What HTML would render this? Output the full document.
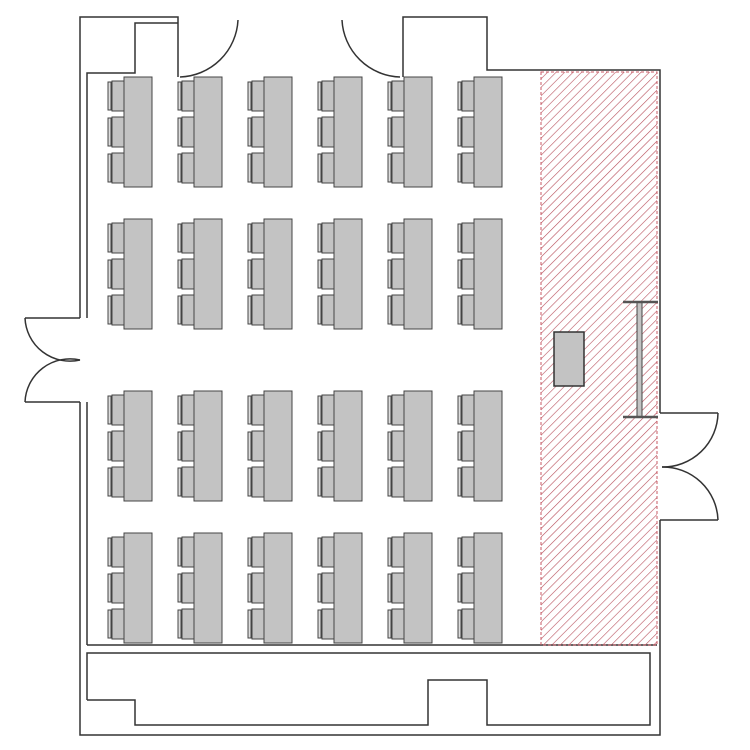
<!DOCTYPE html>
<html><head><meta charset="utf-8"><style>body{margin:0;background:#fff}svg{display:block}</style></head><body>
<svg width="750" height="750" viewBox="0 0 750 750" xmlns="http://www.w3.org/2000/svg">
<defs>
<pattern id="h" width="6" height="6" patternUnits="userSpaceOnUse" patternTransform="rotate(45)">
<line x1="0" y1="0" x2="0" y2="6" stroke="#b8505c" stroke-width="1.2"/>
</pattern>
<g id="desk">
<rect x="0" y="0" width="28" height="110" fill="#c3c3c3" stroke="#444" stroke-width="1"/>
<g fill="#c3c3c3" stroke="#444" stroke-width="1">
<rect x="-12" y="4" width="12" height="30"/><rect x="-12" y="40" width="12" height="30"/><rect x="-12" y="76" width="12" height="30"/>
<rect x="-16" y="5" width="3" height="28" fill="#ddd"/><rect x="-16" y="41" width="3" height="28" fill="#ddd"/><rect x="-16" y="77" width="3" height="28" fill="#ddd"/>
</g>
</g>
</defs>
<g fill="none" stroke="#333" stroke-width="1.5">
<polyline points="80,318 80,17 178,17 178,77"/>
<polyline points="87,318 87,73 135,73 135,23 178,23"/>
<polyline points="403,77 403,17 487,17 487,70 660,70 660,413"/>
<polyline points="660,520 660,735 80,735 80,402"/>
<line x1="87" y1="402" x2="87" y2="645"/>
<line x1="87" y1="645" x2="657" y2="645"/>
<polyline points="87,700 87,653 650,653 650,725 487,725 487,680 428,680 428,725 135,725 135,700 87,700"/>
<path d="M180,77 A60,60 0 0 0 238,20"/>
<path d="M400,77 A60,60 0 0 1 342,20"/>
<line x1="80" y1="318" x2="25" y2="318"/>
<line x1="80" y1="402" x2="25" y2="402"/>
<path d="M25,318 A45,45 0 0 0 80,360"/>
<path d="M25,402 A45,45 0 0 1 80,360"/>
<line x1="660" y1="413" x2="718" y2="413"/>
<line x1="660" y1="520" x2="718" y2="520"/>
<path d="M718,413 A55,55 0 0 1 662,467"/>
<path d="M718,520 A55,55 0 0 0 662,467"/>
</g>
<rect x="541" y="72" width="116" height="573" fill="url(#h)" stroke="#c85a66" stroke-width="1" stroke-dasharray="3,2"/>
<rect x="554" y="332" width="30" height="54" fill="#c3c3c3" stroke="#333" stroke-width="1.5"/>
<rect x="637" y="302" width="5" height="115" fill="#c3c3c3" stroke="#444" stroke-width="1"/>
<line x1="623" y1="302" x2="658" y2="302" stroke="#555" stroke-width="2.5"/>
<line x1="623" y1="417" x2="658" y2="417" stroke="#555" stroke-width="2.5"/>
<g>
<use href="#desk" x="124" y="77"/><use href="#desk" x="194" y="77"/><use href="#desk" x="264" y="77"/><use href="#desk" x="334" y="77"/><use href="#desk" x="404" y="77"/><use href="#desk" x="474" y="77"/>
<use href="#desk" x="124" y="219"/><use href="#desk" x="194" y="219"/><use href="#desk" x="264" y="219"/><use href="#desk" x="334" y="219"/><use href="#desk" x="404" y="219"/><use href="#desk" x="474" y="219"/>
<use href="#desk" x="124" y="391"/><use href="#desk" x="194" y="391"/><use href="#desk" x="264" y="391"/><use href="#desk" x="334" y="391"/><use href="#desk" x="404" y="391"/><use href="#desk" x="474" y="391"/>
<use href="#desk" x="124" y="533"/><use href="#desk" x="194" y="533"/><use href="#desk" x="264" y="533"/><use href="#desk" x="334" y="533"/><use href="#desk" x="404" y="533"/><use href="#desk" x="474" y="533"/>
</g>
</svg>
</body></html>
